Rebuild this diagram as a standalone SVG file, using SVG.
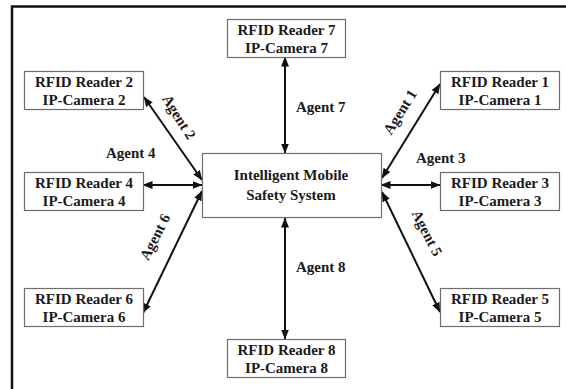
<svg xmlns="http://www.w3.org/2000/svg" width="566" height="389" viewBox="0 0 566 389">
  <style>
    .box { fill: #fff; stroke: #6e6e6e; stroke-width: 1.2; }
    .lbl { font-family: "Liberation Serif", "Times New Roman", serif; font-weight: bold; font-size: 15px; fill: #1a1a1a; text-anchor: middle; }
    .agent { font-family: "Liberation Serif", "Times New Roman", serif; font-weight: bold; font-size: 15px; fill: #1a1a1a; }
    .link { stroke: #111; stroke-width: 2; fill: none; marker-start: url(#head); marker-end: url(#head); }
  </style>
  <defs>
    <marker id="head" viewBox="0 0 10 8" refX="9.5" refY="4" markerWidth="10" markerHeight="8" markerUnits="userSpaceOnUse" orient="auto-start-reverse">
      <path d="M0,0 L10,4 L0,8 z" fill="#111"/>
    </marker>
  </defs>

  <rect width="566" height="389" fill="#fff"/>

  <!-- outer frame (top and left edges) -->
  <g id="frame" stroke="#111" stroke-width="2.5" fill="none">
    <path d="M12,389 V6.5 H566"/>
  </g>

  <!-- connectors -->
  <g id="connectors">
    <line class="link" x1="285" y1="57" x2="285" y2="153"/>
    <line class="link" x1="285" y1="218" x2="285" y2="339"/>
    <line class="link" x1="143" y1="185" x2="202" y2="185"/>
    <line class="link" x1="381" y1="185" x2="440" y2="185"/>
    <line class="link" x1="144" y1="97" x2="202" y2="180"/>
    <line class="link" x1="440" y1="84" x2="382" y2="178"/>
    <line class="link" x1="143" y1="313" x2="202" y2="191"/>
    <line class="link" x1="440" y1="312" x2="382" y2="192"/>
  </g>

  <!-- connector labels -->
  <g id="labels">
    <text class="agent" x="296" y="112">Agent 7</text>
    <text class="agent" x="296" y="272">Agent 8</text>
    <text class="agent" x="106" y="158">Agent 4</text>
    <text class="agent" x="416" y="163">Agent 3</text>
    <text class="agent" text-anchor="middle" transform="translate(179,117) rotate(58)" y="5">Agent 2</text>
    <text class="agent" text-anchor="middle" transform="translate(400,112) rotate(-58)" y="5">Agent 1</text>
    <text class="agent" text-anchor="middle" transform="translate(155,237) rotate(-63)" y="5">Agent 6</text>
    <text class="agent" text-anchor="middle" transform="translate(427,233) rotate(63)" y="5">Agent 5</text>
  </g>

  <g id="center">
    <rect class="box" x="202.5" y="153.5" width="179" height="64"/>
    <text class="lbl" x="291" y="180">Intelligent Mobile</text>
    <text class="lbl" x="291" y="200">Safety System</text>
  </g>

  <g id="node7">
    <rect class="box" x="227.5" y="19.5" width="118" height="38"/>
    <text class="lbl" x="286.5" y="35">RFID Reader 7</text>
    <text class="lbl" x="286.5" y="53">IP-Camera 7</text>
  </g>

  <g id="node2">
    <rect class="box" x="24.5" y="71.5" width="119" height="38"/>
    <text class="lbl" x="84" y="87">RFID Reader 2</text>
    <text class="lbl" x="84" y="105">IP-Camera 2</text>
  </g>

  <g id="node1">
    <rect class="box" x="440.5" y="71.5" width="119" height="38"/>
    <text class="lbl" x="500" y="87">RFID Reader 1</text>
    <text class="lbl" x="500" y="105">IP-Camera 1</text>
  </g>

  <g id="node4">
    <rect class="box" x="24.5" y="172.5" width="119" height="38"/>
    <text class="lbl" x="84" y="188">RFID Reader 4</text>
    <text class="lbl" x="84" y="206">IP-Camera 4</text>
  </g>

  <g id="node3">
    <rect class="box" x="440.5" y="172.5" width="119" height="38"/>
    <text class="lbl" x="500" y="188">RFID Reader 3</text>
    <text class="lbl" x="500" y="206">IP-Camera 3</text>
  </g>

  <g id="node6">
    <rect class="box" x="24.5" y="288.5" width="119" height="38"/>
    <text class="lbl" x="84" y="304">RFID Reader 6</text>
    <text class="lbl" x="84" y="322">IP-Camera 6</text>
  </g>

  <g id="node5">
    <rect class="box" x="440.5" y="288.5" width="119" height="38"/>
    <text class="lbl" x="500" y="304">RFID Reader 5</text>
    <text class="lbl" x="500" y="322">IP-Camera 5</text>
  </g>

  <g id="node8">
    <rect class="box" x="227.5" y="339.5" width="118" height="38"/>
    <text class="lbl" x="286.5" y="355">RFID Reader 8</text>
    <text class="lbl" x="286.5" y="373">IP-Camera 8</text>
  </g>
</svg>
